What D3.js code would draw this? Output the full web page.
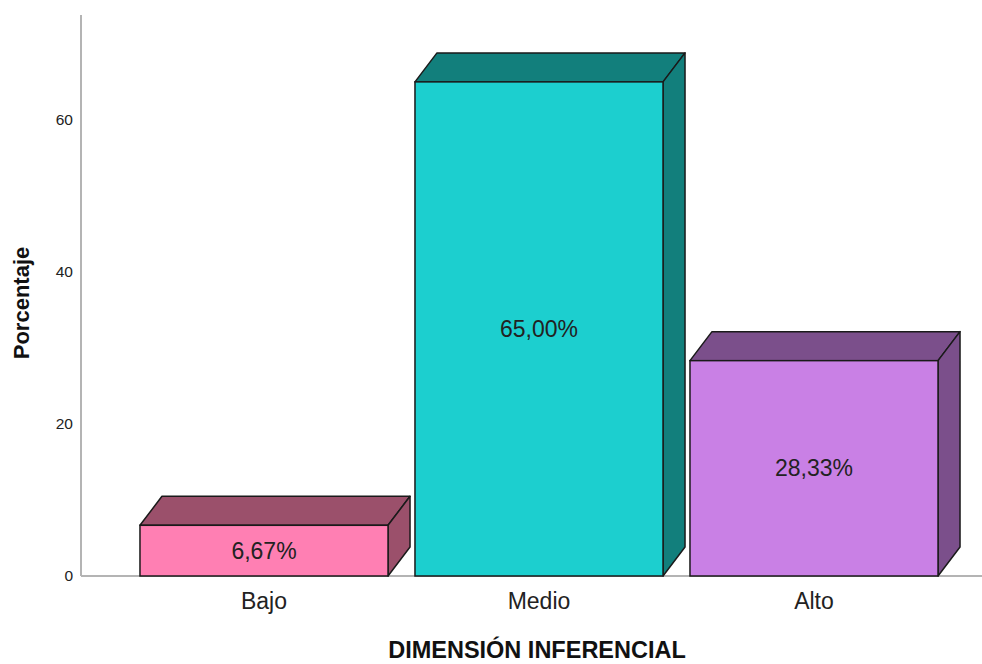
<!DOCTYPE html>
<html>
<head>
<meta charset="utf-8">
<script src="https://cdn.jsdelivr.net/npm/d3@7"></script>
<style>
  body { margin: 0; background: #fff; }
  text { font-family: "Liberation Sans", Arial, sans-serif; }
</style>
</head>
<body>
<svg width="982" height="664"></svg>
<script>
var categories = ["Bajo", "Medio", "Alto"];
var values = [6.67, 65.00, 28.33];
var labels = ["6,67%", "65,00%", "28,33%"];
var yTicks = [0, 20, 40, 60];
var frontColors = ["#ff7fb3", "#1ccfcf", "#c980e5"];
var sideColors = ["#9b506b", "#127f7c", "#7b4f8b"];

var svg = d3.select("svg");
var width = +svg.attr("width"),
    height = +svg.attr("height");

var x0 = 81, yBase = 576, yTop = 15;
var depthX = 22, depthY = 29;

var x = d3.scaleBand()
    .domain(categories)
    .range([126.5, 951.5])
    .paddingInner(0.098)
    .paddingOuter(0.049);

var y = d3.scaleLinear()
    .domain([0, 73.8])
    .range([yBase, yTop]);

// axes lines
svg.append("line")
    .attr("x1", x0).attr("x2", x0)
    .attr("y1", yTop).attr("y2", yBase)
    .attr("stroke", "#b4b4b4").attr("stroke-width", 2);
svg.append("line")
    .attr("x1", x0).attr("x2", width)
    .attr("y1", yBase).attr("y2", yBase)
    .attr("stroke", "#b4b4b4").attr("stroke-width", 2);

// y tick labels
svg.append("g").selectAll("text")
    .data(yTicks)
  .enter().append("text")
    .attr("x", 73)
    .attr("y", function(d) { return y(d); })
    .attr("dy", "0.35em")
    .attr("text-anchor", "end")
    .attr("font-size", 15.5)
    .attr("fill", "#222")
    .text(function(d) { return d; });

var bars = svg.append("g").selectAll("g")
    .data(categories)
  .enter().append("g");

// top face
bars.append("path")
    .attr("d", function(d, i) {
      var l = x(d), r = x(d) + x.bandwidth(), t = y(values[i]);
      return "M" + l + "," + t + "L" + (l + depthX) + "," + (t - depthY) +
             "L" + (r + depthX) + "," + (t - depthY) + "L" + r + "," + t + "Z";
    })
    .attr("fill", function(d, i) { return sideColors[i]; })
    .attr("stroke", "#1a1a1a").attr("stroke-width", 1.5)
    .attr("stroke-linejoin", "round");

// side face
bars.append("path")
    .attr("d", function(d, i) {
      var r = x(d) + x.bandwidth(), t = y(values[i]), b = y(0);
      return "M" + r + "," + t + "L" + (r + depthX) + "," + (t - depthY) +
             "L" + (r + depthX) + "," + (b - depthY) + "L" + r + "," + b + "Z";
    })
    .attr("fill", function(d, i) { return sideColors[i]; })
    .attr("stroke", "#1a1a1a").attr("stroke-width", 1.5)
    .attr("stroke-linejoin", "round");

// front face
bars.append("rect")
    .attr("x", function(d) { return x(d); })
    .attr("y", function(d, i) { return y(values[i]); })
    .attr("width", x.bandwidth())
    .attr("height", function(d, i) { return y(0) - y(values[i]); })
    .attr("fill", function(d, i) { return frontColors[i]; })
    .attr("stroke", "#1a1a1a").attr("stroke-width", 1.5);

// value labels
bars.append("text")
    .attr("x", function(d) { return x(d) + x.bandwidth() / 2; })
    .attr("y", function(d, i) { return (y(values[i]) + y(0)) / 2; })
    .attr("dy", "0.35em")
    .attr("text-anchor", "middle")
    .attr("font-size", 23)
    .attr("fill", "#222")
    .text(function(d, i) { return labels[i]; });

// category labels
svg.append("g").selectAll("text")
    .data(categories)
  .enter().append("text")
    .attr("x", function(d) { return x(d) + x.bandwidth() / 2; })
    .attr("y", 609)
    .attr("text-anchor", "middle")
    .attr("font-size", 23)
    .attr("fill", "#222")
    .text(function(d) { return d; });

// axis titles
svg.append("text")
    .attr("x", 537)
    .attr("y", 658)
    .attr("text-anchor", "middle")
    .attr("font-size", 23.5)
    .attr("font-weight", "bold")
    .attr("fill", "#111")
    .text("DIMENSIÓN INFERENCIAL");

svg.append("text")
    .attr("transform", "translate(29,303) rotate(-90)")
    .attr("text-anchor", "middle")
    .attr("font-size", 22)
    .attr("font-weight", "bold")
    .attr("fill", "#111")
    .text("Porcentaje");
</script>
</body>
</html>
